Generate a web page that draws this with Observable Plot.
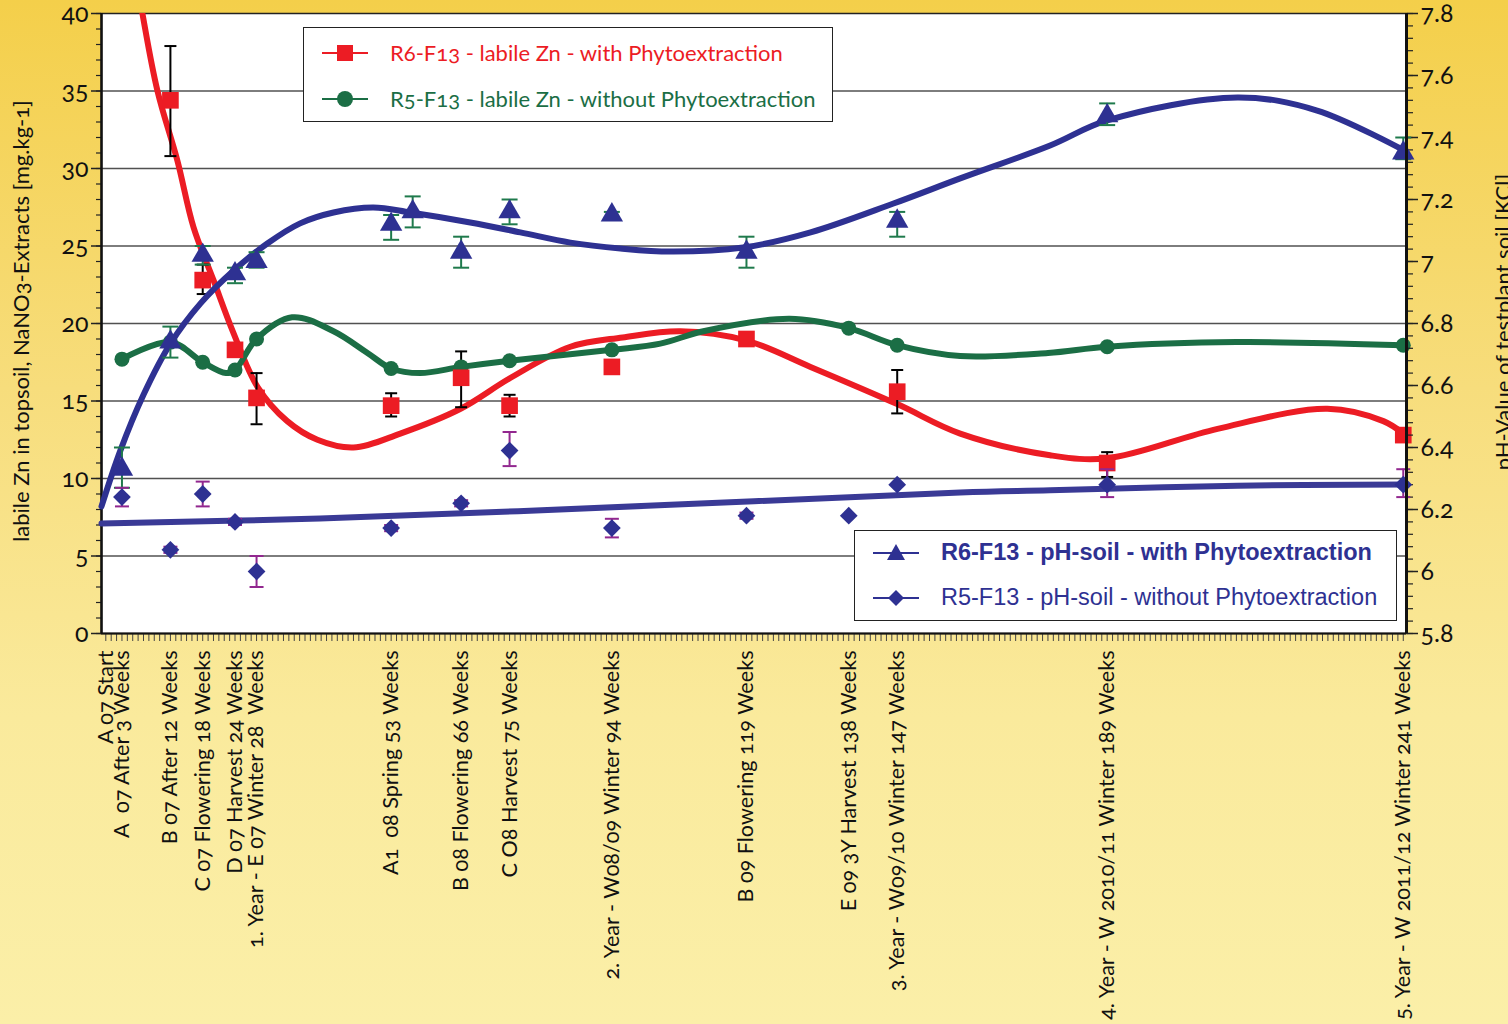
<!DOCTYPE html>
<html><head><meta charset="utf-8">
<script src="https://cdn.jsdelivr.net/npm/d3@7"></script>
<script src="https://cdn.jsdelivr.net/npm/@observablehq/plot@0.6"></script>
<style>
html,body{margin:0;padding:0;}
body{width:1508px;height:1024px;overflow:hidden;position:relative;
 background:linear-gradient(to bottom,#f4cf4a 0%,#f7dd7c 38%,#faea9c 70%,#fbefa8 100%);font-family:Lato,sans-serif;}
#wrap{position:absolute;left:0;top:0;width:1508px;height:1024px;}
#wrap svg{position:absolute;left:0;top:0;overflow:visible;}
#wrap svg text{font-variant-numeric:oldstyle-nums;}
.title{position:absolute;white-space:nowrap;transform:translate(-50%,-50%) rotate(-90deg);font-size:22px;color:#111;font-family:Lato,sans-serif;font-variant-numeric:oldstyle-nums;}
.legend{position:absolute;background:#fff;border:1px solid #222;box-sizing:border-box;}
.row{position:absolute;left:0;height:0;}
.row svg{position:absolute;left:16px;top:-12px;}
.row span{position:absolute;left:86px;top:0;transform:translateY(-52%);white-space:nowrap;}
.lg1 span{font-family:Lato,sans-serif;font-size:22px;font-variant-numeric:oldstyle-nums;}
.lg2 span{font-family:"Liberation Sans",Arial,sans-serif;font-size:23.5px;color:#2e3192;}
</style></head>
<body>
<div id="wrap"></div>
<div class="title" style="left:20px;top:321px;">labile Zn in topsoil, NaNO3-Extracts [mg.kg-1]</div>
<div class="title" style="left:1502px;top:322px;">pH-Value of testplant soil [KCl]</div>
<div class="legend lg1" style="left:303px;top:27px;width:530px;height:95px;">
  <div class="row" style="top:25px;"><svg width="50" height="24"><line x1="2" y1="12" x2="48" y2="12" stroke="#ec1c24" stroke-width="2"/><rect x="17" y="4" width="16" height="16" fill="#ec1c24"/></svg><span style="color:#ec1c24">R6-F13 - labile Zn - with Phytoextraction</span></div>
  <div class="row" style="top:71px;"><svg width="50" height="24"><line x1="2" y1="12" x2="48" y2="12" stroke="#1b6e45" stroke-width="2"/><circle cx="25" cy="12" r="8" fill="#1b6e45"/></svg><span style="color:#1b6e45">R5-F13 - labile Zn - without Phytoextraction</span></div>
</div>
<div class="legend lg2" style="left:854px;top:530px;width:543px;height:91px;">
  <div class="row" style="top:22px;"><svg width="50" height="24"><line x1="2" y1="12" x2="48" y2="12" stroke="#2e3192" stroke-width="2"/><path d="M25,3 L34,19 L16,19 Z" fill="#2e3192"/></svg><span style="font-weight:bold;font-size:23.5px;">R6-F13 - pH-soil - with Phytoextraction</span></div>
  <div class="row" style="top:67px;"><svg width="50" height="24"><line x1="2" y1="12" x2="48" y2="12" stroke="#2e3192" stroke-width="2"/><path d="M25,4 L33,12 L25,20 L17,12 Z" fill="#2e3192"/></svg><span>R5-F13 - pH-soil - without Phytoextraction</span></div>
</div>
<script>
// ---------- x axis (weeks) ----------
const xDomain = [-0.8, 241.6];
const labelWeeks = [0, 3, 12, 18, 24, 28, 53, 66, 75, 94, 119, 138, 147, 186, 241];
const weekLabels = [
  "A 07 Start", "A  07 After 3 Weeks", "B 07 After 12 Weeks", "C 07 Flowering 18 Weeks",
  "D 07 Harvest 24 Weeks", "1. Year - E 07 Winter 28  Weeks", "A1  08 Spring 53 Weeks",
  "B 08 Flowering 66 Weeks", "C O8 Harvest 75 Weeks", "2. Year - W08/09 Winter 94 Weeks",
  "B 09 Flowering 119 Weeks", "E 09 3Y Harvest 138 Weeks", "3. Year - W09/10 Winter 147 Weeks",
  "4. Year - W 2010/11 Winter 189 Weeks", "5. Year - W 2011/12 Winter 241 Weeks"
];
// ---------- left axis: labile Zn ----------
const znTicks = [0, 5, 10, 15, 20, 25, 30, 35, 40];
const znGrid = [5, 10, 15, 20, 25, 30, 35];

// R6-F13 labile Zn with phytoextraction (red squares)
const znWithWeeks = [12, 18, 24, 28, 53, 66, 75, 94, 119, 147, 186, 241];
const znWith      = [34.4, 22.8, 18.3, 15.2, 14.7, 16.5, 14.7, 17.2, 19.0, 15.6, 11.0, 12.8];
const znWithLo    = [30.8, 21.9, null, 13.5, 14.0, 14.6, 14.0, null, null, 14.2, 10.1, null];
const znWithHi    = [37.9, 23.8, null, 16.8, 15.5, 18.2, 15.4, null, null, 17.0, 11.7, null];
// red trend curve
const znWithTrendWeeks = [3, 6.8, 9.6, 13.3, 16.3, 20, 23.7, 28.2, 33.7, 39.3, 46, 54.7, 65.9, 75.2, 86.3, 96, 106.7, 119, 130.9, 147, 158.7, 175.4, 186, 206.5, 226.9, 237.3, 241];
const znWithTrend      = [48, 40, 35, 30.5, 26.2, 22.8, 19.4, 15.9, 13.7, 12.5, 12.0, 12.9, 14.5, 16.5, 18.5, 19.1, 19.5, 18.9, 17.2, 14.8, 12.9, 11.5, 11.3, 13.2, 14.5, 13.7, 12.9];

// R5-F13 labile Zn without phytoextraction (green circles)
const znWithoutWeeks = [3, 12, 18, 24, 28, 53, 66, 75, 94, 138, 147, 186, 241];
const znWithout      = [17.7, 18.8, 17.5, 17.0, 19.0, 17.1, 17.2, 17.6, 18.3, 19.7, 18.6, 18.5, 18.6];
// green smoothed line
const znWithoutLineWeeks = [3, 12, 18, 22.3, 24, 28, 34.6, 42.3, 48.6, 53, 58.4, 66, 75, 94, 103, 111, 127, 138, 147, 158.7, 175, 186, 210, 241];
const znWithoutLine      = [17.7, 18.8, 17.5, 16.8, 17.0, 19.0, 20.4, 19.5, 18.1, 17.1, 16.8, 17.2, 17.6, 18.3, 18.7, 19.5, 20.3, 19.7, 18.6, 17.9, 18.1, 18.5, 18.8, 18.6];

// ---------- right axis: pH ----------
const phTicks = [5.8, 6, 6.2, 6.4, 6.6, 6.8, 7, 7.2, 7.4, 7.6, 7.8];
const phTickLabels = ["5.8", "6", "6.2", "6.4", "6.6", "6.8", "7", "7.2", "7.4", "7.6", "7.8"];

// R6-F13 pH with phytoextraction (triangles)
const phWithWeeks = [3, 12, 18, 24, 28, 53, 57, 66, 75, 94, 119, 147, 186, 241];
const phWith      = [6.33, 6.74, 7.02, 6.96, 7.00, 7.12, 7.16, 7.03, 7.16, 7.15, 7.03, 7.13, 7.47, 7.35];
const phWithLo    = [6.27, 6.69, 6.99, 6.93, 6.98, 7.07, 7.11, 6.98, 7.12, 7.14, 6.98, 7.08, 7.44, 7.33];
const phWithHi    = [6.40, 6.79, 7.05, 6.98, 7.03, 7.15, 7.21, 7.08, 7.20, 7.16, 7.08, 7.16, 7.51, 7.40];
const phWithTrendWeeks = [-0.8, 2.7, 7, 12, 17.6, 23.7, 30, 36.1, 42.3, 49.7, 56.6, 67.7, 77, 86.3, 95.6, 104.9, 118.4, 130.9, 146.3, 158.7, 175.4, 186, 210.2, 225, 241.2];
const phWithTrend      = [6.21, 6.39, 6.57, 6.735, 6.865, 6.97, 7.058, 7.123, 7.158, 7.174, 7.158, 7.126, 7.094, 7.061, 7.042, 7.032, 7.045, 7.094, 7.187, 7.268, 7.374, 7.455, 7.529, 7.487, 7.358];

// R5-F13 pH without phytoextraction (diamonds)
const phWithoutWeeks = [3, 12, 18, 24, 28, 53, 66, 75, 94, 119, 138, 147, 186, 241];
const phWithout      = [6.24, 6.07, 6.25, 6.16, 6.00, 6.14, 6.22, 6.39, 6.14, 6.18, 6.18, 6.28, 6.28, 6.28];
const phWithoutLo    = [6.21, 6.06, 6.21, 6.15, 5.95, 6.13, 6.21, 6.34, 6.11, 6.17, null, null, 6.24, 6.24];
const phWithoutHi    = [6.27, 6.08, 6.29, 6.17, 6.05, 6.15, 6.23, 6.45, 6.17, 6.19, null, null, 6.33, 6.33];
const phWithoutTrendWeeks = [-0.8, 39.8, 104.9, 158.7, 175.4, 210.2, 241.2];
const phWithoutTrend      = [6.155, 6.171, 6.215, 6.255, 6.262, 6.277, 6.281];

// ---------- helpers ----------
const pts = (ws, vs) => ws.map((w, i) => ({w, v: vs[i]})).filter(d => d.v != null);
const errs = (ws, lo, hi) => ws.map((w, i) => ({w, lo: lo[i], hi: hi[i]})).filter(d => d.lo != null);
const cap = {draw(ctx, size) { const h = Math.sqrt(size / Math.PI); ctx.moveTo(-h, 0); ctx.lineTo(h, 0); }};

const RED = "#ec1c24", GREEN = "#1b6e45", BLUE = "#2e3192", PURPLE = "#92278f", EGREEN = "#1f7a4c";
const dims = {width: 1508, height: 1024, marginLeft: 101, marginRight: 102, marginTop: 13, marginBottom: 391};

const redPts = pts(znWithWeeks, znWith);
const redErr = errs(znWithWeeks, znWithLo, znWithHi);
const greenPts = pts(znWithoutWeeks, znWithout);
const triPts = pts(phWithWeeks, phWith);
const triErr = errs(phWithWeeks, phWithLo, phWithHi);
const diaPts = pts(phWithoutWeeks, phWithout);
const diaErr = errs(phWithoutWeeks, phWithoutLo, phWithoutHi);

const p1 = Plot.plot({
  ...dims,
  style: {background: "transparent", fontFamily: "Lato, sans-serif", color: "#111", overflow: "visible"},
  x: {domain: xDomain, label: null},
  y: {domain: [0, 40], label: null},
  marks: [
    Plot.frame({fill: "white", stroke: "#222", strokeWidth: 1.5}),
    Plot.gridY(znGrid, {stroke: "#333", strokeOpacity: 0.85, strokeWidth: 1.3}),
    Plot.axisY({ticks: d3.range(0, 41, 1), tickSize: 5, tickFormat: () => "", stroke: "#222", strokeWidth: 1.2, label: null}),
    Plot.axisY({ticks: znTicks, tickSize: 10, tickPadding: 3, fontSize: 25, stroke: "#222", strokeWidth: 1.5, label: null}),
    Plot.axisX({ticks: d3.range(0, 242, 1), tickSize: 8, tickFormat: () => "", stroke: "#444", strokeWidth: 1, label: null}),
    Plot.axisX({ticks: labelWeeks, tickSize: 0, tickPadding: 17, tickRotate: -90, fontSize: 21.6, label: null,
      tickFormat: d => weekLabels[labelWeeks.indexOf(d)]}),
    Plot.ruleX([xDomain[0]], {stroke: "#111", strokeWidth: 2.5}),
    Plot.ruleY([0], {stroke: "#111", strokeWidth: 2}),
    Plot.line(pts(znWithTrendWeeks, znWithTrend), {x: "w", y: "v", stroke: RED, strokeWidth: 6, curve: "catmull-rom", clip: true}),
    Plot.line(pts(znWithoutLineWeeks, znWithoutLine), {x: "w", y: "v", stroke: GREEN, strokeWidth: 6, curve: "catmull-rom"}),
    Plot.ruleX(redErr, {x: "w", y1: "lo", y2: "hi", stroke: "#000", strokeWidth: 2}),
    Plot.dot(redErr, {x: "w", y: "lo", symbol: cap, r: 6, stroke: "#000", strokeWidth: 2, fill: "none"}),
    Plot.dot(redErr, {x: "w", y: "hi", symbol: cap, r: 6, stroke: "#000", strokeWidth: 2, fill: "none"}),
    Plot.dot(greenPts, {x: "w", y: "v", symbol: "circle", r: 7.5, fill: GREEN, stroke: "none"}),
    Plot.dot(redPts, {x: "w", y: "v", symbol: "square", r: 9.4, fill: RED, stroke: "none"})
  ]
});

const p2 = Plot.plot({
  ...dims,
  style: {background: "transparent", fontFamily: "Lato, sans-serif", color: "#111", overflow: "visible"},
  x: {domain: xDomain, axis: null, label: null},
  y: {domain: [5.8, 7.8], label: null},
  marks: [
    Plot.axisY({anchor: "right", ticks: d3.range(0, 51, 1).map(i => 5.8 + i * 0.04), tickSize: 6, tickFormat: () => "", stroke: "#222", strokeWidth: 1.2, label: null}),
    Plot.axisY({anchor: "right", ticks: phTicks, tickSize: 11, tickPadding: 3, fontSize: 25, stroke: "#222", strokeWidth: 1.5, label: null,
      tickFormat: d => phTickLabels[phTicks.findIndex(t => Math.abs(t - d) < 1e-9)]}),
    Plot.line(pts(phWithoutTrendWeeks, phWithoutTrend), {x: "w", y: "v", stroke: "#3a3a96", strokeWidth: 6, curve: "catmull-rom"}),
    Plot.line(pts(phWithTrendWeeks, phWithTrend), {x: "w", y: "v", stroke: BLUE, strokeWidth: 6, curve: "catmull-rom"}),
    Plot.ruleX(triErr, {x: "w", y1: "lo", y2: "hi", stroke: EGREEN, strokeWidth: 2}),
    Plot.dot(triErr, {x: "w", y: "lo", symbol: cap, r: 8, stroke: EGREEN, strokeWidth: 2, fill: "none"}),
    Plot.dot(triErr, {x: "w", y: "hi", symbol: cap, r: 8, stroke: EGREEN, strokeWidth: 2, fill: "none"}),
    Plot.ruleX(diaErr, {x: "w", y1: "lo", y2: "hi", stroke: PURPLE, strokeWidth: 2}),
    Plot.dot(diaErr, {x: "w", y: "lo", symbol: cap, r: 7, stroke: PURPLE, strokeWidth: 2, fill: "none"}),
    Plot.dot(diaErr, {x: "w", y: "hi", symbol: cap, r: 7, stroke: PURPLE, strokeWidth: 2, fill: "none"}),
    Plot.dot(triPts, {x: "w", y: "v", symbol: "triangle", r: 8.3, fill: BLUE, stroke: "none"}),
    Plot.dot(diaPts, {x: "w", y: "v", symbol: "diamond2", r: 8, fill: BLUE, stroke: "none"}),
    Plot.ruleX([xDomain[1]], {stroke: "#111", strokeWidth: 3})
  ]
});

const wrap = document.getElementById("wrap");
wrap.appendChild(p1);
wrap.appendChild(p2);
</script>
</body></html>
